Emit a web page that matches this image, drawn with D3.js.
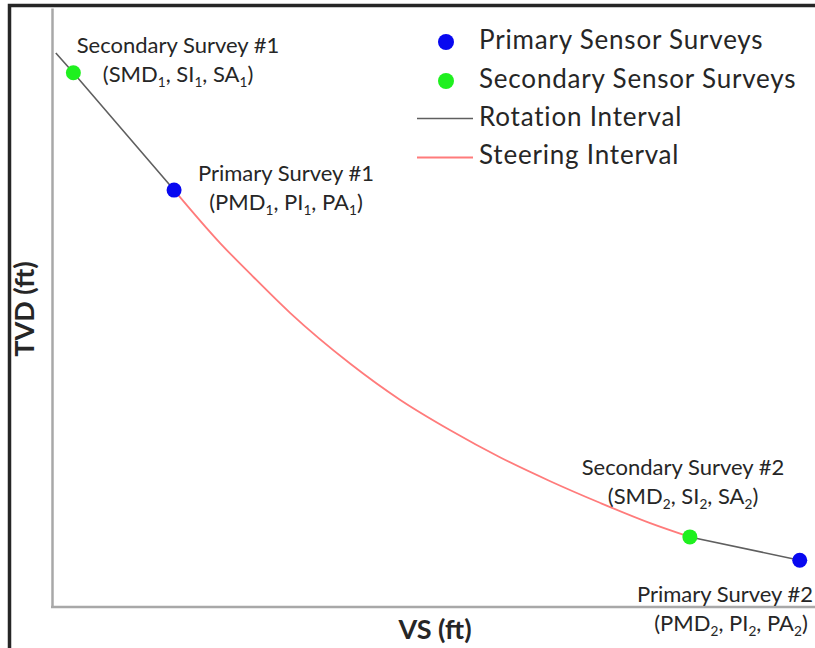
<!DOCTYPE html>
<html>
<head>
<meta charset="utf-8">
<script src="https://cdn.jsdelivr.net/npm/d3@7"></script>
<style>
  html, body { margin: 0; padding: 0; background: #fff; }
  svg { display: block; }
  text { font-family: Lato, "Open Sans", sans-serif; fill: #262626; }
</style>
</head>
<body>
<svg id="chart" width="815" height="648"></svg>
<script>
// ---- Data (VS ft, TVD ft; arbitrary units) ----
const rotation1VS  = [5, 28, 160];
const rotation1TVD = [75, 108, 304];
const steeringVS   = [160, 220, 260, 312, 391, 456, 522, 587, 653, 718, 784, 836];
const steeringTVD  = [304, 392, 444, 509, 594, 654, 705, 750, 790, 826, 860, 883];
const rotation2VS  = [836, 980];
const rotation2TVD = [883, 922];
const primaryVS    = [160, 980];
const primaryTVD   = [304, 922];
const secondaryVS  = [28, 836];
const secondaryTVD = [108, 883];
const legendLabels = ["Primary Sensor Surveys", "Secondary Sensor Surveys", "Rotation Interval", "Steering Interval"];
const annotTitles  = ["Secondary Survey #1", "Primary Survey #1", "Secondary Survey #2", "Primary Survey #2"];
const annotParams  = [["SMD","SI","SA"], ["PMD","PI","PA"], ["SMD","SI","SA"], ["PMD","PI","PA"]];
const annotIndex   = ["1", "1", "2", "2"];

const svg = d3.select("#chart");
const x = d3.scaleLinear().domain([0, 1000]).range([52, 815]);
const y = d3.scaleLinear().domain([0, 1000]).range([8, 607]);

// outer frame (top & left edges visible)
svg.append("path")
  .attr("d", "M9.5,648 L9.5,5.5 L815,5.5")
  .attr("fill", "none").attr("stroke", "#262626").attr("stroke-width", 3.5);

// axes
const xAxis = svg.append("g").attr("transform", `translate(0,${y(1000)})`)
  .call(d3.axisBottom(x).ticks(0).tickSizeOuter(0));
const yAxis = svg.append("g").attr("transform", `translate(${x(0)},0)`)
  .call(d3.axisLeft(y).ticks(0).tickSizeOuter(0));
svg.selectAll(".domain").attr("stroke", "#a8a8a8").attr("stroke-width", 2.5);
xAxis.select(".domain").attr("d", `M${x(0) - 1},0H${x(1000) + 5}`);

// axis titles
svg.append("text").attr("x", 435).attr("y", 639).attr("text-anchor", "middle")
  .attr("font-weight", "bold").attr("font-size", 27).text("VS (ft)");
svg.append("text").attr("transform", "translate(34,309) rotate(-90)").attr("text-anchor", "middle")
  .attr("font-weight", "bold").attr("font-size", 27).text("TVD (ft)");

// lines
const line = d3.line().x(d => x(d[0])).y(d => y(d[1]));
const lineSmooth = d3.line().x(d => x(d[0])).y(d => y(d[1])).curve(d3.curveMonotoneX);
const zip = (a, b) => a.map((v, i) => [v, b[i]]);

svg.append("path").datum(zip(rotation1VS, rotation1TVD)).attr("d", line)
  .attr("fill", "none").attr("stroke", "#5f5f5f").attr("stroke-width", 1.6);
svg.append("path").datum(zip(steeringVS, steeringTVD)).attr("d", lineSmooth)
  .attr("fill", "none").attr("stroke", "#ff7b7b").attr("stroke-width", 1.8);
svg.append("path").datum(zip(rotation2VS, rotation2TVD)).attr("d", line)
  .attr("fill", "none").attr("stroke", "#5f5f5f").attr("stroke-width", 1.6);

// points
svg.append("g").selectAll("circle").data(zip(secondaryVS, secondaryTVD)).join("circle")
  .attr("cx", d => x(d[0])).attr("cy", d => y(d[1])).attr("r", 7.5).attr("fill", "#1ff01f");
svg.append("g").selectAll("circle").data(zip(primaryVS, primaryTVD)).join("circle")
  .attr("cx", d => x(d[0])).attr("cy", d => y(d[1])).attr("r", 7.5).attr("fill", "#0808f0");

// annotations
const annotPos = [[178, 53], [286, 181], [683, 475], [731, 602]];
const annotFS = 22;
annotTitles.forEach((t, i) => {
  const [cx, by] = annotPos[i];
  const title = svg.append("text").attr("y", by).attr("font-size", annotFS).text(t);
  if (i === 3) title.attr("x", 813).attr("text-anchor", "end");
  else title.attr("x", cx).attr("text-anchor", "middle");
  const tx = svg.append("text").attr("x", cx).attr("y", by + 29).attr("text-anchor", "middle")
    .attr("font-size", annotFS);
  tx.append("tspan").text("(");
  annotParams[i].forEach((p, j) => {
    tx.append("tspan").text(p);
    tx.append("tspan").attr("font-size", annotFS * 0.62).attr("dy", 5).text(annotIndex[i]);
    tx.append("tspan").attr("dy", -5).text(j < 2 ? ", " : ")");
  });
});

// legend
const legendFS = 26;
const lg = svg.append("g");
const legendY = [49, 88, 126, 164];
lg.append("circle").attr("cx", 446).attr("cy", 42).attr("r", 8).attr("fill", "#0808f0");
lg.append("circle").attr("cx", 446).attr("cy", 81).attr("r", 8).attr("fill", "#1ff01f");
lg.append("line").attr("x1", 417).attr("x2", 473).attr("y1", 118.5).attr("y2", 118.5)
  .attr("stroke", "#5f5f5f").attr("stroke-width", 1.6);
lg.append("line").attr("x1", 417).attr("x2", 473).attr("y1", 157.5).attr("y2", 157.5)
  .attr("stroke", "#ff7b7b").attr("stroke-width", 1.8);
legendLabels.forEach((l, i) => {
  lg.append("text").attr("x", 479).attr("y", legendY[i]).attr("font-size", legendFS)
    .attr("letter-spacing", 0.8).text(l);
});
</script>
</body>
</html>
